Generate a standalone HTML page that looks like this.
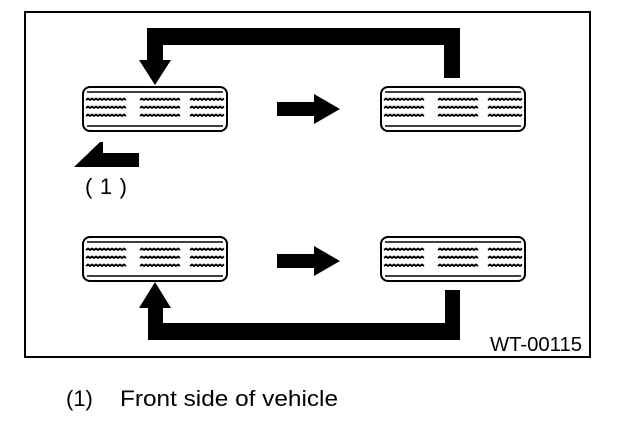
<!DOCTYPE html>
<html><head><meta charset="utf-8"><style>
html,body{margin:0;padding:0;background:#fff;width:640px;height:440px;overflow:hidden}
</style></head><body>
<svg width="640" height="440" viewBox="0 0 640 440" xmlns="http://www.w3.org/2000/svg" font-family="Liberation Sans, Arial, sans-serif">
<defs>
<g id="tire">
<rect x="1" y="1" width="144" height="44" rx="7" fill="#fff" stroke="#000" stroke-width="2"/>
<line x1="5" y1="6" x2="141" y2="6" stroke="#000" stroke-width="1.5"/>
<line x1="5" y1="40" x2="141" y2="40" stroke="#000" stroke-width="1.5"/>
<g fill="none" stroke="#000" stroke-width="1.8">
<path id="w1" d="M4 14 l2 -1.5 l2 1.5 l2 -1.5 l2 1.5 l2 -1.5 l2 1.5 l2 -1.5 l2 1.5 l2 -1.5 l2 1.5 l2 -1.5 l2 1.5 l2 -1.5 l2 1.5 l2 -1.5 l2 1.5 l2 -1.5 l2 1.5 l2 -1.5 l2 1.5"/>
<use href="#w1" y="8"/><use href="#w1" y="16"/>
<use href="#w1" x="54"/><use href="#w1" x="54" y="8"/><use href="#w1" x="54" y="16"/>
<path d="M108 14 l2 -1.5 l2 1.5 l2 -1.5 l2 1.5 l2 -1.5 l2 1.5 l2 -1.5 l2 1.5 l2 -1.5 l2 1.5 l2 -1.5 l2 1.5 l2 -1.5 l2 1.5 l2 -1.5 l2 1.5 l2 -1.5"/>
<path d="M108 22 l2 -1.5 l2 1.5 l2 -1.5 l2 1.5 l2 -1.5 l2 1.5 l2 -1.5 l2 1.5 l2 -1.5 l2 1.5 l2 -1.5 l2 1.5 l2 -1.5 l2 1.5 l2 -1.5 l2 1.5 l2 -1.5"/>
<path d="M108 30 l2 -1.5 l2 1.5 l2 -1.5 l2 1.5 l2 -1.5 l2 1.5 l2 -1.5 l2 1.5 l2 -1.5 l2 1.5 l2 -1.5 l2 1.5 l2 -1.5 l2 1.5 l2 -1.5 l2 1.5 l2 -1.5"/>
</g>
</g>
<polygon id="rarr" points="0,-7 37,-7 37,-15 63,0 37,15 37,7 0,7" fill="#000"/>
</defs>
<rect x="25" y="12" width="565" height="345" fill="none" stroke="#000" stroke-width="2"/>
<polygon points="444,78 460,78 460,28 147,28 147,60 139,60 155,85 171,60 163,60 163,45 444,45" fill="#000"/>
<polygon points="445,290 460,290 460,340 148,340 148,308 139,308 155,282 171,308 163,308 163,323 445,323" fill="#000"/>
<use href="#tire" x="82" y="86"/>
<use href="#tire" x="380" y="86"/>
<use href="#tire" x="82" y="236"/>
<use href="#tire" x="380" y="236"/>
<use href="#rarr" x="277" y="109"/>
<use href="#rarr" x="277" y="261"/>
<polygon points="74,167 100,142 103,142 103,153 139,153 139,167" fill="#000"/>
<text x="85" y="194" font-size="22" textLength="42" lengthAdjust="spacing">(1)</text>
<text x="490" y="351" font-size="20" textLength="92" lengthAdjust="spacingAndGlyphs">WT-00115</text>
<text x="66" y="406" font-size="22">(1)</text>
<text x="120" y="406" font-size="22" textLength="218" lengthAdjust="spacingAndGlyphs">Front side of vehicle</text>
</svg>
</body></html>
